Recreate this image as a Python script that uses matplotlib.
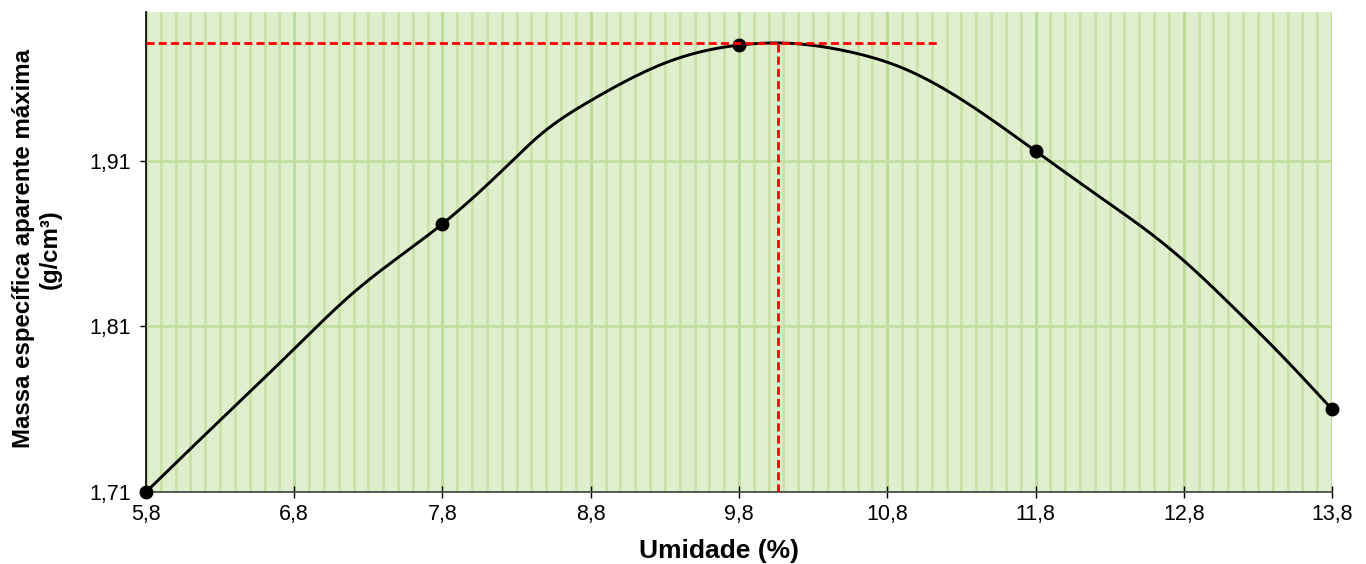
import numpy as np
import matplotlib
matplotlib.use("Agg")
import matplotlib.pyplot as plt
from matplotlib.ticker import FixedLocator, MultipleLocator, FuncFormatter

plt.rcParams['font.family'] = ['Liberation Sans', 'DejaVu Sans']

# Data (measured points)
umidade = [5.8, 7.8, 9.8, 11.8, 13.8]
massa = [1.710, 1.872, 1.980, 1.916, 1.760]

# Drawn compaction curve
curva_x = [5.800, 6.211, 6.792, 7.196, 7.800, 8.235, 8.458, 8.808, 9.355, 9.800,
           10.056, 10.549, 10.886, 11.338, 11.800, 12.235, 12.572, 12.795, 13.132,
           13.470, 13.800]
curva_y = [1.7100, 1.7457, 1.7958, 1.8302, 1.8720, 1.9070, 1.9257, 1.9469, 1.9710, 1.9800,
           1.9813, 1.9759, 1.9668, 1.9450, 1.9160, 1.8882, 1.8665, 1.8502, 1.8218,
           1.7916, 1.7600]

x_ticks = [5.8, 6.8, 7.8, 8.8, 9.8, 10.8, 11.8, 12.8, 13.8]
y_ticks = [1.71, 1.81, 1.91]
umidade_otima = 10.06
massa_max = 1.981
linha_h_fim = 11.14


def natural_spline(x, y, n=600):
    """Natural cubic spline through the read curve points (for smooth drawing)."""
    x = np.asarray(x, float)
    y = np.asarray(y, float)
    m = len(x)
    h = np.diff(x)
    A = np.zeros((m, m))
    r = np.zeros(m)
    A[0, 0] = A[-1, -1] = 1.0
    for i in range(1, m - 1):
        A[i, i - 1] = h[i - 1]
        A[i, i] = 2 * (h[i - 1] + h[i])
        A[i, i + 1] = h[i]
        r[i] = 6 * ((y[i + 1] - y[i]) / h[i] - (y[i] - y[i - 1]) / h[i - 1])
    M = np.linalg.solve(A, r)
    xs = np.linspace(x[0], x[-1], n)
    k = np.clip(np.searchsorted(x, xs) - 1, 0, m - 2)
    x0, x1, y0, y1 = x[k], x[k + 1], y[k], y[k + 1]
    hk = x1 - x0
    M0, M1 = M[k], M[k + 1]
    ys = (M0 * (x1 - xs) ** 3 + M1 * (xs - x0) ** 3) / (6 * hk) \
        + (y0 / hk - M0 * hk / 6) * (x1 - xs) + (y1 / hk - M1 * hk / 6) * (xs - x0)
    return xs, ys


fig = plt.figure(figsize=(13.66, 5.64), dpi=100)
ax = fig.add_axes([146 / 1366, 1 - 492 / 564, (1332 - 146) / 1366, (492 - 12) / 564])

ax.set_facecolor('#dfefcd')
ax.set_xlim(5.8, 13.8)
ax.set_ylim(1.71, 2.0)

ax.xaxis.set_major_locator(FixedLocator(x_ticks))
ax.xaxis.set_minor_locator(MultipleLocator(0.1))
ax.yaxis.set_major_locator(FixedLocator(y_ticks))
fmt = lambda v, d: (f"{v:.{d}f}").replace('.', ',')
ax.xaxis.set_major_formatter(FuncFormatter(lambda v, p: fmt(v, 1)))
ax.yaxis.set_major_formatter(FuncFormatter(lambda v, p: fmt(v, 2)))

ax.grid(True, which='minor', axis='x', color='#c8e3a9', linewidth=2.0, zorder=0)
ax.grid(True, which='major', axis='x', color='#bddc9a', linewidth=2.2, zorder=0)
ax.grid(True, which='major', axis='y', color='#c2dfa0', linewidth=2.0, zorder=0)
ax.set_axisbelow(True)

for s in ['top', 'right']:
    ax.spines[s].set_visible(False)
ax.spines['left'].set_color('black')
ax.spines['bottom'].set_color('#404040')
ax.spines['left'].set_linewidth(1.2)
ax.spines['bottom'].set_linewidth(1.2)

ax.tick_params(axis='x', which='major', direction='inout', length=9, width=1.0,
               labelsize=15.5, colors='black', pad=4)
ax.tick_params(axis='y', which='major', direction='out', length=4, width=1.0,
               labelsize=15.5, colors='black', pad=7)
ax.tick_params(axis='x', which='minor', length=0)

xs, ys = natural_spline(curva_x, curva_y)
ax.plot(xs, ys, color='black', linewidth=2.1, zorder=3, clip_on=False)
ax.plot(umidade, massa, 'o', color='black', markersize=9, zorder=4, clip_on=False)

ax.plot([5.8, linha_h_fim], [massa_max, massa_max], color='#ff0000', linestyle=(0, (2.9, 1.5)),
        linewidth=2.0, zorder=5)
ax.plot([umidade_otima, umidade_otima], [1.71, massa_max], color='#ff0000', linestyle=(0, (2.9, 1.5)),
        linewidth=2.0, zorder=5)

ax.set_xlabel('Umidade (%)', fontsize=19, fontweight='bold')
ax.xaxis.set_label_coords(0.483, -0.098)
ax.set_ylabel('Massa específica aparente máxima\n(g/cm³)', fontsize=17.3, fontweight='bold',
              linespacing=1.25)
ax.yaxis.set_label_coords(-0.0708, 0.507)

fig.savefig('out.png', dpi=100)
